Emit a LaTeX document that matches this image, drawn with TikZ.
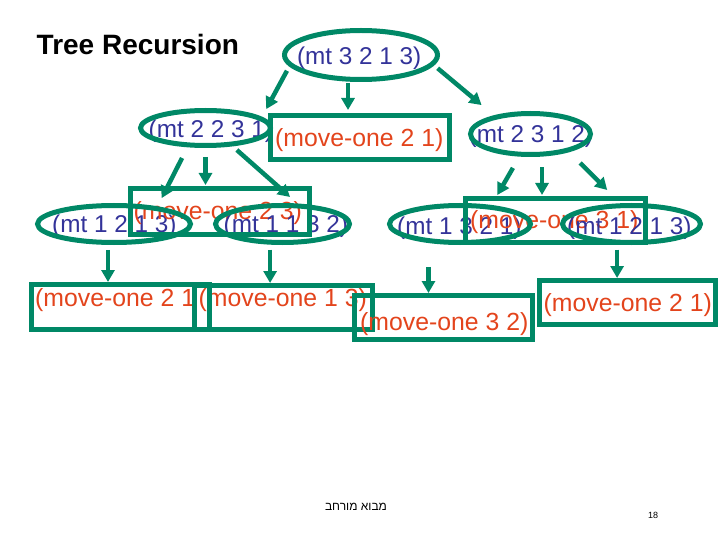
\documentclass[tikz,border=0pt]{standalone}
\usepackage{fontspec}
\setmainfont{Liberation Sans}
\newfontfamily\hebfont[Script=Hebrew]{Liberation Sans}
\TeXXeTstate=1
\usetikzlibrary{shapes.geometric,arrows.meta}
\definecolor{treegreen}{RGB}{0,136,102}
\definecolor{callblue}{RGB}{51,51,153}
\definecolor{movered}{RGB}{227,68,28}
\begin{document}
\begin{tikzpicture}[x=1pt, y=-1pt, every node/.style={inner sep=0pt},
    oval/.style={ellipse, draw=treegreen, line width=5pt},
    box/.style={rectangle, draw=treegreen, line width=5pt},
    arr/.style={draw=treegreen, line width=4.5pt, -{Triangle[length=12pt,width=13pt]}},
    call/.style={anchor=base west, text=callblue, font=\fontsize{24.3}{28}\selectfont},
    move/.style={anchor=base west, text=movered, font=\fontsize{24.8}{28}\selectfont}]
    \useasboundingbox (0,0) rectangle (720,540);
    \node[anchor=base west, font=\bfseries\fontsize{28}{34}\selectfont](title) at (36.5, 55) {Tree Recursion};

    % texts
    \node[call](l3213) at (296.8, 65) {(mt 3 2 1 3)};
    \node[call](l2231) at (148.5, 138) {(mt 2 2 3 1)};
    \node[move](l21) at (275, 146.5) {(move-one 2 1)};
    \node[call](l2312) at (468.5, 143) {(mt 2 3 1 2)};
    \node[call](l1213) at (52, 232.5) {(mt 1 2 1 3)};
    \node[move](l23) at (133.5, 220) {(move-one 2 3)};
    \node[call](l1132) at (223.5, 233) {(mt 1 1 3 2)};
    \node[call](l1321) at (397, 235) {(mt 1 3 2 1)};
    \node[move](l31) at (470, 229) {(move-one 3 1)};
    \node[call](l1213r) at (567, 235) {(mt 1 2 1 3)};
    \node[move](l21a) at (35, 306.5) {(move-one 2 1)};
    \node[box, fill=white, minimum width=178pt, minimum height=44pt](m13) at (283.5, 307.5){};
    \node[move](l13) at (198.5, 306.5) {(move-one 1 3)};
    \node[move](l32) at (360, 330) {(move-one 3 2)};
    \node[move](l21b) at (543.5, 311.5) {(move-one 2 1)};

    % level 1 and 2
    \node[oval, minimum width=153pt, minimum height=49pt](c3213) at (361, 55){};
    \node[oval, minimum width=130pt, minimum height=35pt](c2231) at (205.5, 128){};
    \node[box, minimum width=179pt, minimum height=44pt](m21) at (360, 137.5){};
    \node[oval, minimum width=120pt, minimum height=41pt](c2312) at (530.5, 134){};

    % level 3
    \node[box, minimum width=179pt, minimum height=46pt](m23) at (220, 211.5){};
    \node[oval, minimum width=153pt, minimum height=37pt](c1213) at (114, 224){};
    \node[oval, minimum width=134pt, minimum height=37pt](c1132) at (282.5, 224){};
    \node[box, minimum width=180pt, minimum height=44pt](m31) at (555.5, 220.5){};
    \node[oval, minimum width=141pt, minimum height=37pt](c1321) at (460, 224){};
    \node[oval, minimum width=138pt, minimum height=37pt](c1213r) at (631.5, 224){};

    % level 4
    \node[box, minimum width=178pt, minimum height=45pt](m21a) at (120.5, 307){};
    \node[box, minimum width=178pt, minimum height=44pt](m32) at (443.5, 317.5){};
    \node[box, minimum width=176pt, minimum height=44pt](m21b) at (627.5, 302.5){};

    % arrows
    \draw[arr, shorten <=5pt, shorten >=9pt] (c3213.189) -- (c2231.11);
    \draw[arr, shorten <=1.5pt, shorten >=3pt] (c3213.244) -- (c3213.244 |- m21.north);
    \draw[arr, shorten <=4.7pt, shorten >=16pt] (c3213.352) -- (c2312.153);

    \draw[arr, shorten <=12pt, shorten >=9.4pt] (c2231.227) -- (c1213.22);
    \draw[arr, shorten <=9pt, shorten >=1pt] (c2231.south) -- (c2231.south |- m23.north);
    \draw[arr, shorten <=5.6pt, shorten >=9.8pt] (c2231.326) -- (c1132.54);

    \draw[arr, shorten <=13pt, shorten >=11.6pt] (c2312.244) -- (c1321.31);
    \draw[arr, shorten <=10.4pt, shorten >=1pt] (c2312.297) -- (c2312.297 |- m31.north);
    \draw[arr, shorten <=15.5pt, shorten >=18.7pt] (c2312.335) -- (c1213r.118);

    \draw[arr, shorten <=5pt] (c1213.254) -- (c1213.254 |- m21a.north);
    \draw[arr, shorten <=5pt] (c1132.239) -- (c1132.239 |- m13.north);
    \draw[arr, shorten <=24pt] (c1321.211) -- (c1321.211 |- m32.north);
    \draw[arr, shorten <=5pt] (c1213r.235) -- (c1213r.235 |- m21b.north);

    % footer
    \node[anchor=base, font=\hebfont\fontsize{12}{14}\selectfont](foot) at (356, 510) {\beginR מבוא מורחב\endR};
    \node[anchor=base, font=\fontsize{9}{10}\selectfont](page) at (653, 518.5) {18};
\end{tikzpicture}
\end{document}
